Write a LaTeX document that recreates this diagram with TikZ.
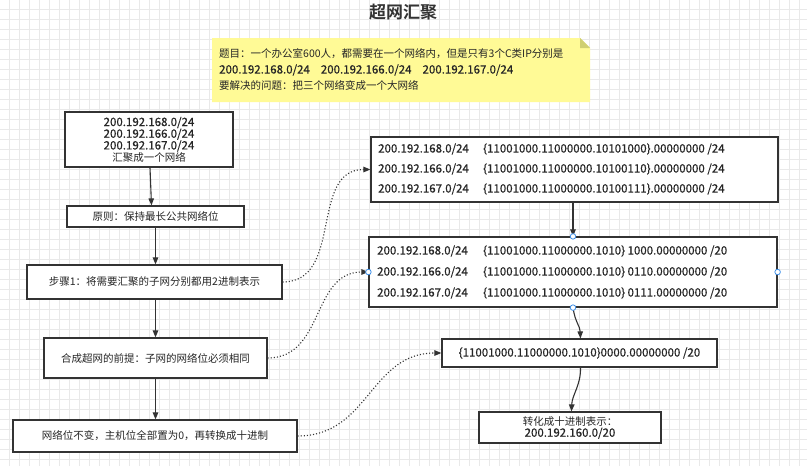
\documentclass[tikz,border=0pt]{standalone}
\usepackage{fontspec}
\setmainfont{Noto Sans CJK SC}[BoldFont={Noto Sans CJK SC Bold}]
\newfontfamily\ipfont{Noto Sans CJK SC}[FakeBold=0.45]
\usetikzlibrary{arrows.meta}
\definecolor{linec}{HTML}{333333}
\definecolor{textc}{HTML}{262626}
\definecolor{gridc}{HTML}{E9E9E9}
\definecolor{notec}{HTML}{FFFA96}
\definecolor{foldc}{HTML}{CFCF72}
\definecolor{handlec}{HTML}{3D8FE8}
\newcommand{\ipsz}{\ipfont\fontsize{11.5}{11.7}\selectfont}
\newcommand{\cjsz}{\fontsize{10.5}{11.7}\selectfont}
\begin{document}
\begin{tikzpicture}[x=1pt,y=-1pt,
  box/.style={draw=linec, line width=1.2pt, fill=white, inner sep=0pt, align=center, text=textc},
  txt/.style={inner sep=0pt, text=textc, anchor=west},
  arr/.style={draw=linec, line width=1.1pt, -{Triangle[length=7pt,width=5.5pt]}},
  dotarr/.style={draw=linec, line width=1.1pt, dotted, -{Triangle[length=7pt,width=5.5pt]}},
  handle/.style={circle, draw=handlec, fill=white, line width=0.8pt, inner sep=0pt, minimum size=5.5pt}]
\useasboundingbox[fill=white] (0,0) rectangle (807,466);
\foreach \gx in {9,19,...,809} {\draw[gridc, line width=0.6pt] (\gx,0) -- (\gx,466);}
\foreach \gy in {9,19,...,469} {\draw[gridc, line width=0.6pt] (0,\gy) -- (807,\gy);}
% title
\node[inner sep=0pt, text=linec, font=\fontsize{17}{20}\selectfont\bfseries] (title) at (403,12) {超网汇聚};
% note
\fill[notec] (212,38) -- (580,38) -- (590,48) -- (590,102) -- (212,102) -- cycle;
\fill[foldc] (580,38) -- (590,48) -- (580,48) -- cycle;
\node[txt, font=\cjsz] (n1) at (219,54) {题目：一个办公室600人，都需要在一个网络内，但是只有3个C类IP分别是};
\node[txt, font=\ipsz] (n2) at (219,70) {200.192.168.0/24\hspace{11pt}200.192.166.0/24\hspace{11pt}200.192.167.0/24};
\node[txt, font=\cjsz] (n3) at (219,85) {要解决的问题：把三个网络变成一个大网络};
% left column
\node[box, minimum width=168pt, minimum height=55pt, font=\ipsz] (A) at (149,139.5)
  {200.192.168.0/24\\200.192.166.0/24\\200.192.167.0/24\\{\normalfont\cjsz 汇聚成一个网络}};
\node[box, minimum width=177pt, minimum height=21pt, font=\cjsz] (B) at (155.5,216.5) {原则：保持最长公共网络位};
\node[box, minimum width=255pt, minimum height=34pt, font=\cjsz] (C) at (154.5,282) {步骤1：将需要汇聚的子网分别都用2进制表示};
\node[box, minimum width=223pt, minimum height=40pt, font=\cjsz] (D) at (155.5,358) {合成超网的前提：子网的网络位必须相同};
\node[box, minimum width=284pt, minimum height=32pt, font=\cjsz] (E) at (155,436) {网络位不变，主机位全部置为0，再转换成十进制};
% right column
\node[box, minimum width=407pt, minimum height=65pt] (F) at (574.5,169.5) {};
\node[txt, font=\ipsz] (f1a) at (378,149) {200.192.168.0/24};
\node[txt, font=\ipsz] (f1b) at (483,149) {\{11001000.11000000.10101000\}.00000000 /24};
\node[txt, font=\ipsz] (f2a) at (378,169) {200.192.166.0/24};
\node[txt, font=\ipsz] (f2b) at (483,169) {\{11001000.11000000.10100110\}.00000000 /24};
\node[txt, font=\ipsz] (f3a) at (378,189) {200.192.167.0/24};
\node[txt, font=\ipsz] (f3b) at (483,189) {\{11001000.11000000.10100111\}.00000000 /24};
\node[box, minimum width=408pt, minimum height=70pt] (G) at (573,272) {};
\node[txt, font=\ipsz] (g1a) at (377,251) {200.192.168.0/24};
\node[txt, font=\ipsz] (g1b) at (483,251) {\{11001000.11000000.1010\} 1000.00000000 /20};
\node[txt, font=\ipsz] (g2a) at (377,272) {200.192.166.0/24};
\node[txt, font=\ipsz] (g2b) at (483,272) {\{11001000.11000000.1010\} 0110.00000000 /20};
\node[txt, font=\ipsz] (g3a) at (377,293) {200.192.167.0/24};
\node[txt, font=\ipsz] (g3b) at (483,293) {\{11001000.11000000.1010\} 0111.00000000 /20};
\node[box, minimum width=275pt, minimum height=28pt, font=\ipsz] (H) at (579.5,353) {\{11001000.11000000.1010\}0000.00000000 /20};
\node[box, minimum width=182pt, minimum height=31pt, font=\ipsz] (I) at (570,427.5) {{\normalfont\cjsz 转化成十进制表示：}\\200.192.160.0/20};
% solid arrows
\draw[arr] ([xshift=1pt]A.south) -- ([xshift=2.5pt]A.south |- B.north);
\draw[arr] (B.south) -- (B.south |- C.north);
\draw[arr] (C.south -| B.south) -- (B.south |- D.north);
\draw[arr] (D.south) -- (D.south |- E.north);
\draw[arr] (F.south -| G.north) -- (G.north);
\draw[arr] (G.south) .. controls (575,322) and (580,326) .. ([xshift=1pt]H.north);
\draw[arr] ([xshift=1pt]H.south) .. controls (581,385) and (572,395) .. ([xshift=1.5pt]I.north);
% dotted arrows
\draw[dotarr] (C.east) to[out=0,in=180,looseness=1.1] (F.west);
\draw[dotarr] (D.east) to[out=0,in=180,looseness=1.1] (G.west);
\draw[dotarr] (E.east) to[out=0,in=180,looseness=1.1] (H.west);
% selection handles on G
\node[handle] (hN) at (G.north) {};
\node[handle] (hW) at (G.west) {};
\node[handle] (hE) at (G.east) {};
\node[handle] (hS) at (G.south) {};
\end{tikzpicture}
\end{document}
